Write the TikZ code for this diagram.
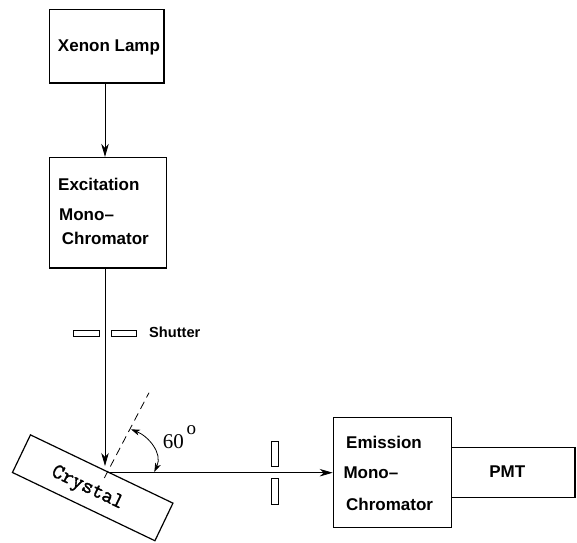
\documentclass[tikz,border=0pt]{standalone}
\usepackage{fontspec}
\setmainfont{Liberation Serif}
\setsansfont{Liberation Sans}
\newfontfamily\crystalfont[FakeBold=1.6]{Latin Modern Mono}
\usetikzlibrary{arrows.meta}
\tikzset{
  instrument/.style={draw,line width=1.2pt,inner sep=0pt,fill=white},
  lab/.style={font=\sffamily\bfseries\fontsize{17}{20}\selectfont,inner sep=0pt,anchor=west},
  slit/.style={draw,line width=0.7pt,inner sep=0pt,fill=white},
  beam/.style={line width=0.8pt,-{Stealth[length=13pt,width=7.5pt,inset=4pt]}},
}
\begin{document}
\begin{tikzpicture}[x=1pt,y=-1pt]
\useasboundingbox (0,0) rectangle (577,542);
% boxes
\node[instrument,minimum width=114.5pt,minimum height=73.5pt] (lamp) at (106.75,46.25) {};
\node[instrument,minimum width=117pt,minimum height=110.5pt] (exc) at (108,212.75) {};
\node[instrument,minimum width=123.3pt,minimum height=49.6pt] (pmt) at (513.35,472.5) {};
\node[instrument,minimum width=118.4pt,minimum height=109.5pt] (emi) at (392.5,472.5) {};
\node[instrument,minimum width=158pt,minimum height=41.7pt,rotate=-25.6] (crystal) at (92.7,487.8) {};
% labels
\node[lab,anchor=center] (lamptxt) at (109,47.5) {Xenon Lamp};
\node[lab] (exc1) at (58,184) {Excitation};
\node[lab] (exc2) at (59,215) {Mono--};
\node[lab] (exc3) at (61.7,238.5) {Chromator};
\node[lab] (emi1) at (346,442.7) {Emission};
\node[lab] (emi2) at (343.3,473) {Mono--};
\node[lab] (emi3) at (346,504) {Chromator};
\node[lab,anchor=center] (pmttxt) at (507.3,472) {PMT};
\node[font=\sffamily\bfseries\fontsize{14.6}{16}\selectfont,inner sep=0pt,anchor=west] (shuttxt) at (149,332) {Shutter};
\node[font=\crystalfont\fontsize{21.5}{24}\selectfont,inner sep=0pt,rotate=-25.6] (cryst) at (87.3,488.3) {Crystal};
\node[font=\fontsize{21}{24}\selectfont,inner sep=0pt] (sixty) at (173.3,442) {60};
\node[font=\fontsize{19}{20}\selectfont,inner sep=0pt] (deg) at (191.3,430.5) {o};
% slits
\node[slit,minimum width=25.3pt,minimum height=6.5pt] (sh1) at (86.3,333.3) {};
\node[slit,minimum width=25.7pt,minimum height=6.5pt] (sh2) at (123.8,333.3) {};
\node[slit,minimum width=7pt,minimum height=25pt] (sl1) at (274.8,454.2) {};
\node[slit,minimum width=7pt,minimum height=25.3pt] (sl2) at (274.8,491.3) {};
% named points
\coordinate (inc) at (105,0);
\coordinate (hit) at (105,466);
\coordinate (out) at (110,472.7);
\coordinate (nA) at (104.3,478);
\coordinate (nB) at (149,392.7);
\coordinate (arcA) at (131,429.3);
\coordinate (arcB) at (154.3,472);
% connectors
\draw[beam] (lamp.south -| inc) -- (exc.north -| inc);
\draw[beam] (exc.south -| inc) -- (hit);
\draw[beam] (out) -- (emi.west |- out);
\draw[line width=0.8pt,dash pattern=on 8pt off 5pt] (nA) -- (nB);
\draw[line width=0.8pt,{Stealth[length=9pt,width=6pt,inset=2.5pt]}-{Stealth[length=9pt,width=6pt,inset=2.5pt]}] (arcA) .. controls (148,436) and (163,453) .. (arcB);
\end{tikzpicture}
\end{document}
